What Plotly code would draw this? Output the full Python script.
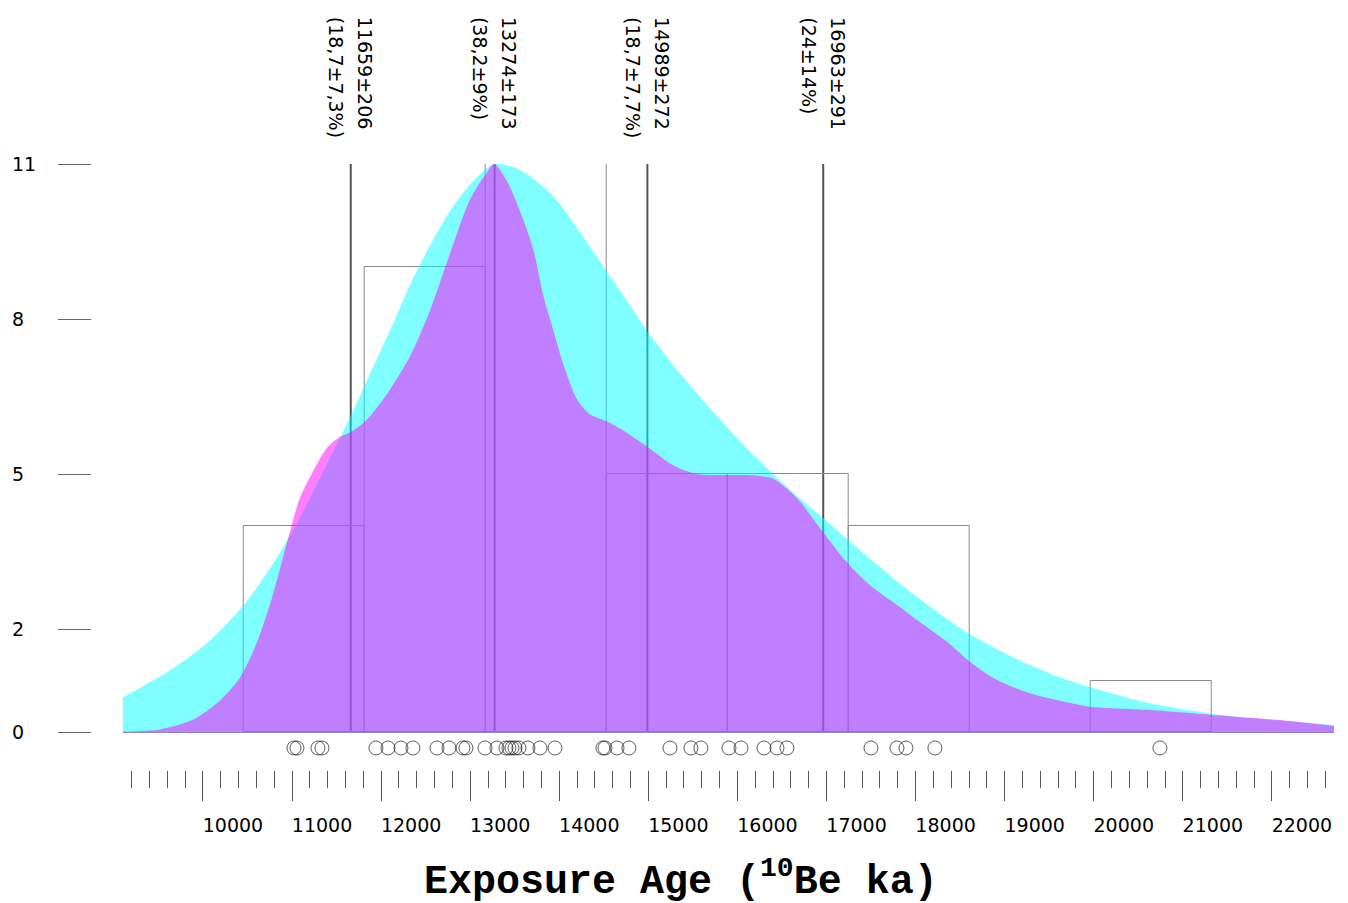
import plotly.graph_objects as go

# ---------------- data ----------------
ages = [11022, 11055, 11291, 11336, 11942, 12077, 12223, 12357, 12627, 12762,
        12919, 12952, 13166, 13300, 13401, 13435, 13469, 13503, 13547, 13648,
        13783, 13952, 14490, 14513, 14648, 14782, 15243, 15478, 15590, 15905,
        16040, 16298, 16444, 16556, 17499, 17791, 17892, 18217, 20743]

bin_start = 10452
bin_width = 1359.5
bin_counts = [4, 9, 11, 5, 5, 4, 0, 1]

peaks = [11659, 13274, 14989, 16963]
peak_ages = ["11659±206", "13274±173", "14989±272", "16963±291"]
peak_shares = ["(18,7±7,3%)", "(38,2±9%)", "(18,7±7,7%)", "(24±14%)"]

broad_x = [9099, 9330, 9573, 9817, 10079, 10452, 10715, 11014, 11276, 11538,
           11650, 11838, 12136, 12324, 12548, 12773, 12997, 13267, 13483, 13708,
           13971, 14232, 14532, 14793, 14981, 15355, 15729, 16103, 16402, 16665,
           16963, 17226, 17600, 17824, 17974, 18349, 18610, 19096, 19583, 19957,
           20594, 21341, 22090, 22697]
broad_y = [0.675, 0.90, 1.14, 1.42, 1.78, 2.45, 3.08, 3.92, 4.80, 5.70,
           6.09, 6.80, 7.92, 8.66, 9.42, 10.09, 10.6, 11.0, 10.94, 10.72,
           10.30, 9.68, 8.92, 8.27, 7.78, 6.95, 6.20, 5.50, 5.00, 4.58,
           4.15, 3.75, 3.20, 2.88, 2.68, 2.20, 1.90, 1.45, 1.09, 0.88,
           0.58, 0.36, 0.23, 0.145]

narrow_x = [9099, 9517, 9891, 10191, 10415, 10603, 10789, 10940, 11089, 11238,
            11389, 11538, 11650, 11838, 12062, 12324, 12548, 12773, 12997, 13185,
            13267, 13409, 13559, 13708, 13820, 13932, 14045, 14195, 14344, 14532,
            14756, 14981, 15280, 15542, 15916, 16216, 16402, 16665, 16963, 17226,
            17488, 17824, 17974, 18349, 18610, 18910, 19284, 19658, 19957, 20594,
            21341, 22090, 22697]
narrow_y = [0.02, 0.06, 0.25, 0.62, 1.06, 1.73, 2.69, 3.65, 4.54, 5.06,
            5.50, 5.72, 5.80, 6.05, 6.54, 7.28, 8.16, 9.27, 10.31, 10.83,
            11.0, 10.68, 10.09, 9.35, 8.46, 7.79, 7.13, 6.46, 6.16, 6.02,
            5.80, 5.54, 5.17, 5.00, 4.98, 4.97, 4.91, 4.54, 3.87, 3.30,
            2.85, 2.43, 2.23, 1.76, 1.37, 1.02, 0.76, 0.60, 0.50, 0.44,
            0.34, 0.24, 0.125]

y_ticks = [0, 2, 5, 8, 11]
x_ticks = list(range(10000, 22001, 1000))
x_ticktext = [str(v) for v in x_ticks]

# ---------------- layout constants ----------------
OFF = 8                      # page body margin of the browser
W, H = 1348 - OFF, 903 - OFF
MT = 164 - OFF               # plot top (y = 11)
PLOT_BOTTOM = 770 - OFF      # x-axis tick start
MB = H - PLOT_BOTTOM
ML = 0
PLOT_RIGHT = 1334 - OFF
MR = W - PLOT_RIGHT
PAPER_W = W - ML - MR
PLOT_H = H - MT - MB
PLOT_LEFT = 122.7 - OFF
X_RANGE = [9099, 22697]
Y_RANGE = [-0.726, 11]
ROW_Y = -0.30
TEXT_FONT = "DejaVu Sans"

fig = go.Figure()

# histogram boxes
bin_centers = [bin_start + (i + 0.5) * bin_width for i in range(len(bin_counts))]
fig.add_trace(go.Bar(x=bin_centers, y=bin_counts, width=bin_width,
                     marker=dict(color="rgba(0,0,0,0)",
                                 line=dict(color="#8a8a8a", width=1)),
                     hoverinfo="skip", showlegend=False))

# broad density (cyan)
fig.add_trace(go.Scatter(x=broad_x, y=broad_y, mode="lines", fill="tozeroy",
                         line=dict(width=0, shape="spline", smoothing=0.8,
                                   color="rgba(0,255,255,0)"),
                         fillcolor="rgba(0,255,255,0.5)", hoverinfo="skip",
                         showlegend=False))
# narrow density (magenta)
fig.add_trace(go.Scatter(x=narrow_x, y=narrow_y, mode="lines", fill="tozeroy",
                         line=dict(width=0, shape="spline", smoothing=0.8,
                                   color="rgba(255,0,255,0)"),
                         fillcolor="rgba(255,0,255,0.5)", hoverinfo="skip",
                         showlegend=False))

# individual ages
fig.add_trace(go.Scatter(x=ages, y=[ROW_Y] * len(ages), mode="markers",
                         marker=dict(symbol="circle-open", size=14,
                                     color="rgba(30,30,30,0.72)", line=dict(width=1)),
                         hoverinfo="skip", showlegend=False))

# peak lines (beneath the fills)
for p in peaks:
    fig.add_shape(type="line", xref="x", yref="y", x0=p, x1=p, y0=0,
                  y1=max(bin_counts), layer="below",
                  line=dict(color="#555555", width=2))

# peak labels (two rotated columns per peak)
label_top = (PLOT_H + MT - (15 - OFF)) / PLOT_H
for p, a, s in zip(peaks, peak_ages, peak_shares):
    fig.add_annotation(x=p, xref="x", y=label_top, yref="paper", xshift=15,
                       text=a, textangle=90, showarrow=False, xanchor="center",
                       yanchor="top",
                       font=dict(family=TEXT_FONT, size=19, color="#000000"))
    fig.add_annotation(x=p, xref="x", y=label_top, yref="paper", xshift=-14,
                       text=s, textangle=90, showarrow=False, xanchor="center",
                       yanchor="top",
                       font=dict(family=TEXT_FONT, size=19, color="#000000"))

# y tick labels (left aligned)
for v in y_ticks:
    fig.add_annotation(x=(10 - OFF - ML) / PAPER_W, xref="paper", y=v, yref="y",
                       text=str(v), showarrow=False, xanchor="left", yanchor="middle",
                       font=dict(family=TEXT_FONT, size=19, color="#000000"))

# title
fig.add_annotation(x=(681 - OFF) / PAPER_W, xref="paper",
                   y=(H - (879 - OFF) - MB) / PLOT_H, yref="paper",
                   text="Exposure Age (<sup>10</sup>Be ka)", showarrow=False,
                   xanchor="center", yanchor="middle",
                   font=dict(family="Liberation Mono", size=40, color="#000000",
                             weight="bold"))

fig.update_layout(
    width=W, height=H,
    margin=dict(l=ML, r=MR, t=MT, b=MB, pad=0),
    paper_bgcolor="white", plot_bgcolor="white",
    showlegend=False, bargap=0,
    xaxis=dict(domain=[(PLOT_LEFT - ML) / PAPER_W, 1.0], range=X_RANGE,
               showgrid=False, zeroline=False, showline=False,
               tickmode="array", tickvals=x_ticks, ticktext=x_ticktext,
               ticks="outside", ticklen=30, tickwidth=1, tickcolor="#555555",
               minor=dict(dtick=200, tick0=0, ticks="outside", ticklen=17,
                          tickwidth=1, tickcolor="#555555", showgrid=False),
               ticklabelshift=30, ticklabelstandoff=8,
               tickfont=dict(family=TEXT_FONT, size=19, color="#000000"),
               automargin=False, fixedrange=True),
    yaxis=dict(range=Y_RANGE, anchor="free", position=(91 - OFF - ML) / PAPER_W,
               showgrid=False, showline=False, showticklabels=False,
               zeroline=True, zerolinecolor="#999999", zerolinewidth=1,
               tickmode="array", tickvals=y_ticks,
               ticks="outside", ticklen=33, tickwidth=1, tickcolor="#666666",
               automargin=False, fixedrange=True),
)

fig.write_html("out.html")
